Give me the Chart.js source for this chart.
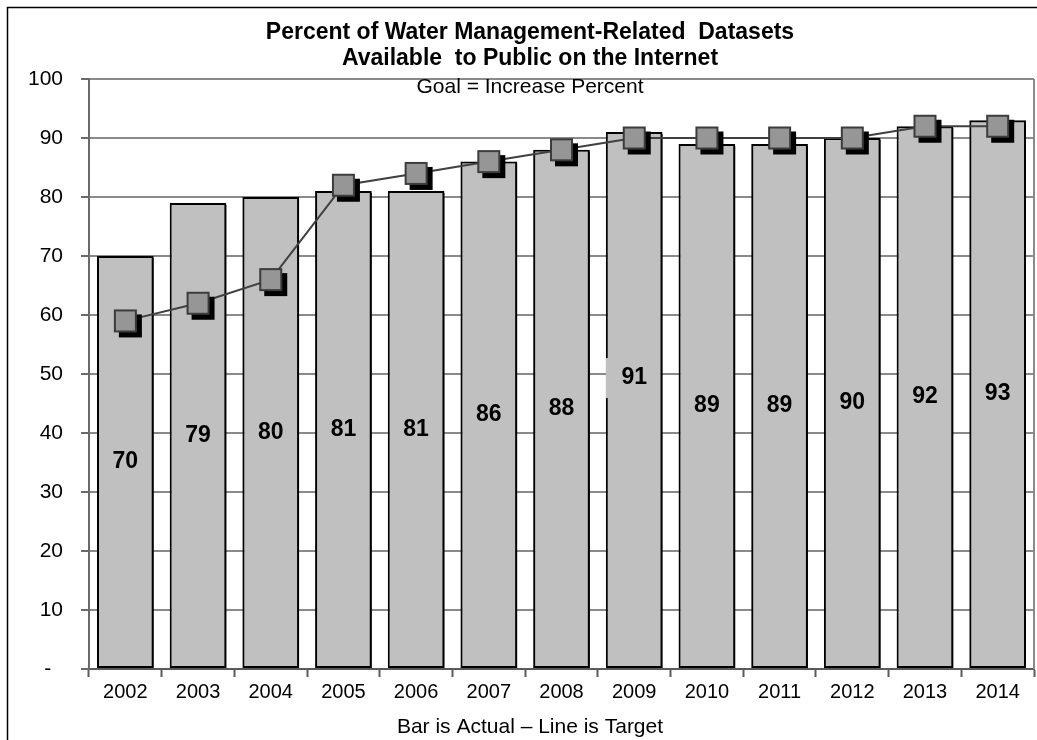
<!DOCTYPE html>
<html>
<head>
<meta charset="utf-8">
<title>Percent of Water Management-Related Datasets Available to Public on the Internet</title>
<script src="https://cdn.jsdelivr.net/npm/chart.js@4.4.1/dist/chart.umd.min.js"></script>
<style>
  html, body { margin: 0; padding: 0; background: #ffffff; }
  #wrap { width: 1037px; height: 740px; position: relative; }
</style>
</head>
<body>
<div id="wrap"><canvas id="chart" width="1037" height="740"></canvas></div>
<script>
// Fiscal years on the category axis
const years = ['2002', '2003', '2004', '2005', '2006', '2007', '2008',
               '2009', '2010', '2011', '2012', '2013', '2014'];
// Actual share of datasets published online (bars)
const actualPercent = [70, 79, 80, 81, 81, 86, 88, 91, 89, 89, 90, 92, 93];
// Target share (line)
const targetPercent = [59, 62, 66, 82, 84, 86, 88, 90, 90, 90, 90, 92, 92];
// Value axis
const yMin = 0;
const yMax = 100;
const yStep = 10;

const titleLines = ['Percent of Water Management-Related  Datasets',
                    'Available  to Public on the Internet'];
const goalText = 'Goal = Increase Percent';
const captionText = 'Bar is Actual \u2013 Line is Target';

const FONT = "'Liberation Sans', Arial, Helvetica, sans-serif";

// Square target marker with a hard black drop shadow, drawn once into a sprite
function makeMarker(side, shadow) {
  const half = side / 2 + shadow + 1;
  const c = document.createElement('canvas');
  c.width = Math.ceil(half * 2);
  c.height = Math.ceil(half * 2);
  const g = c.getContext('2d');
  const cx = c.width / 2;
  const cy = c.height / 2;
  g.fillStyle = '#000000';
  g.fillRect(cx - side / 2 + shadow, cy - side / 2 + shadow, side, side);
  g.fillStyle = '#969696';
  g.fillRect(cx - side / 2, cy - side / 2, side, side);
  g.strokeStyle = '#3c3c3c';
  g.lineWidth = 2;
  g.strokeRect(cx - side / 2 + 1, cy - side / 2 + 1, side - 2, side - 2);
  return c;
}
const markerSprite = makeMarker(23, 5);

// White page with a thin frame around the chart object
const framePlugin = {
  id: 'frame',
  beforeDraw(chart) {
    const ctx = chart.ctx;
    ctx.save();
    ctx.fillStyle = '#ffffff';
    ctx.fillRect(0, 0, chart.width, chart.height);
    ctx.strokeStyle = '#000000';
    ctx.lineWidth = 1.5;
    ctx.strokeRect(7.5, 7.5, chart.width + 20, chart.height + 20);
    ctx.restore();
  }
};

// Right edge of the plot area and the goal line of text under the title
const plotExtrasPlugin = {
  id: 'plotExtras',
  beforeDatasetsDraw(chart) {
    const { ctx, chartArea } = chart;
    ctx.save();
    ctx.strokeStyle = '#8a8a8a';
    ctx.lineWidth = 2;
    ctx.beginPath();
    ctx.moveTo(chartArea.right, chartArea.top);
    ctx.lineTo(chartArea.right, chartArea.bottom);
    ctx.stroke();

    ctx.fillStyle = '#000000';
    ctx.font = '21px ' + FONT;
    ctx.textAlign = 'center';
    ctx.textBaseline = 'middle';
    ctx.fillText(goalText, 530, 87);
    ctx.restore();
  }
};

// Hard drop shadows for datasets that ask for one
const shadowPlugin = {
  id: 'dropShadow',
  beforeDatasetDraw(chart, args) {
    const ds = chart.data.datasets[args.index];
    if (!ds.shadowOffset) return;
    const ctx = chart.ctx;
    ctx.save();
    ctx.shadowColor = '#000000';
    ctx.shadowBlur = 0;
    ctx.shadowOffsetX = ds.shadowOffset;
    ctx.shadowOffsetY = ds.shadowOffset;
  },
  afterDatasetDraw(chart, args) {
    const ds = chart.data.datasets[args.index];
    if (!ds.shadowOffset) return;
    chart.ctx.restore();
  }
};

// Bar values written in the middle of each bar
const barValuePlugin = {
  id: 'barValues',
  afterDatasetsDraw(chart, args, opts) {
    const ctx = chart.ctx;
    const meta = chart.getDatasetMeta(0);
    const values = chart.data.datasets[0].data;
    ctx.save();
    ctx.font = 'bold ' + opts.size + 'px ' + FONT;
    ctx.textAlign = 'center';
    ctx.textBaseline = 'middle';
    meta.data.forEach((bar, i) => {
      const nudge = (opts.nudge && opts.nudge[i]) || 0;
      const x = bar.x;
      const y = (bar.y + bar.base) / 2 + nudge;
      if (nudge) {
        const left = x - bar.width / 2;
        ctx.fillStyle = opts.boxColor;
        ctx.fillRect(left, y - 20, bar.width - 6, 40);
      }
      ctx.fillStyle = '#000000';
      ctx.fillText(String(values[i]), x, y);
    });
    ctx.restore();
  }
};

new Chart(document.getElementById('chart'), {
  data: {
    labels: years,
    datasets: [
      {
        type: 'bar',
        label: 'Actual',
        data: actualPercent,
        backgroundColor: '#c0c0c0',
        borderColor: '#000000',
        borderWidth: 2,
        borderSkipped: false,
        barPercentage: 0.78,
        categoryPercentage: 1.0,
        shadowOffset: 2,
        order: 3
      },
      {
        type: 'line',
        label: 'Target',
        data: targetPercent,
        borderColor: '#404040',
        borderWidth: 2,
        pointStyle: markerSprite,
        pointRadius: 12,
        pointHoverRadius: 12,
        tension: 0,
        fill: false,
        order: 1
      }
    ]
  },
  options: {
    responsive: false,
    animation: false,
    devicePixelRatio: 1,
    layout: { autoPadding: false, padding: { top: 7, left: 26, right: 3, bottom: 0 } },
    plugins: {
      legend: { display: false },
      tooltip: { enabled: false },
      title: {
        display: true,
        text: titleLines,
        color: '#000000',
        font: { family: FONT, size: 23, weight: 'bold', lineHeight: '26px' },
        padding: { top: 13, bottom: 7 }
      },
      subtitle: {
        display: true,
        position: 'bottom',
        text: captionText,
        color: '#000000',
        font: { family: FONT, size: 21, weight: 'normal', lineHeight: '24px' },
        padding: { top: 0, bottom: 1 }
      },
      barValues: { size: 23, nudge: { 7: -22 }, boxColor: '#c0c0c0' }
    },
    scales: {
      x: {
        type: 'category',
        offset: true,
        grid: {
          display: true,
          offset: true,
          drawOnChartArea: false,
          drawTicks: true,
          tickLength: 8,
          tickColor: '#5a5a5a',
          tickWidth: 2
        },
        border: { display: true, color: '#5a5a5a', width: 2 },
        ticks: {
          color: '#000000',
          font: { family: FONT, size: 20 },
          padding: 3,
          maxRotation: 0,
          autoSkip: false
        },
        afterFit(scale) {
          scale.height = 46;
          scale.paddingLeft = 0;
          scale.paddingRight = 0;
        }
      },
      y: {
        min: yMin,
        max: yMax,
        grid: {
          color: '#8a8a8a',
          lineWidth: 2,
          drawTicks: true,
          tickLength: 8,
          tickColor: '#6a6a6a',
          tickWidth: 2
        },
        border: { display: true, color: '#6a6a6a', width: 2 },
        ticks: {
          stepSize: yStep,
          color: '#000000',
          font: { family: FONT, size: 21 },
          padding: 18,
          callback: (v) => (v === 0 ? '-  ' : String(v))
        },
        afterFit(scale) {
          scale.width = 63;
          scale.paddingTop = 0;
          scale.paddingBottom = 0;
        }
      }
    }
  },
  plugins: [framePlugin, plotExtrasPlugin, shadowPlugin, barValuePlugin]
});
</script>
</body>
</html>
